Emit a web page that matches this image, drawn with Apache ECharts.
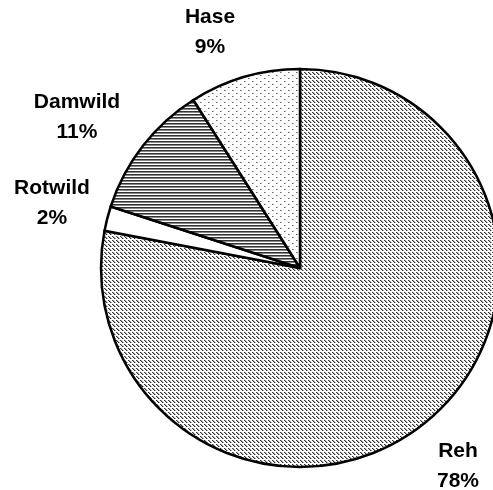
<!DOCTYPE html>
<html>
<head>
<meta charset="utf-8">
<script src="https://cdn.jsdelivr.net/npm/echarts@6/dist/echarts.min.js"></script>
<style>
  html, body { margin: 0; padding: 0; background: #fff; }
  #chart { width: 493px; height: 490px; }
</style>
</head>
<body>
<div id="chart"></div>
<script>
// Wildarten und ihre Anteile (im Uhrzeigersinn ab 12 Uhr)
const categories = ['Reh', 'Rotwild', 'Damwild', 'Hase'];
const shares = [78, 2, 11, 9];

// Beschriftungspositionen (Mitte des Textblocks)
const labelPos = [
  [458, 466],
  [52, 203],
  [77, 117],
  [210, 32]
];

// Kleine Kachel-Muster für die Flächenfüllung
function tile(w, h, pixels) {
  const c = document.createElement('canvas');
  c.width = w; c.height = h;
  const ctx = c.getContext('2d');
  ctx.fillStyle = '#fff';
  ctx.fillRect(0, 0, w, h);
  pixels.forEach(([x, y, col]) => {
    ctx.fillStyle = col;
    ctx.fillRect(x, y, 1, 1);
  });
  return c;
}

const diagonal = tile(4, 4, [
  [0, 0, '#333'], [1, 0, '#aaa'],
  [1, 1, '#333'], [2, 1, '#aaa'],
  [2, 2, '#333'], [3, 2, '#aaa']
]);
const dots = tile(8, 6, [
  [0, 0, '#666'], [1, 0, '#aaa'],
  [4, 3, '#666'], [5, 3, '#aaa']
]);
const stripes = tile(1, 3, [
  [0, 0, '#333'], [0, 1, '#888']
]);

const fills = [
  { image: diagonal, repeat: 'repeat' },
  '#ffffff',
  { image: stripes, repeat: 'repeat' },
  { image: dots, repeat: 'repeat' }
];

const chart = echarts.init(document.getElementById('chart'), null, { renderer: 'canvas' });

chart.setOption({
  animation: false,
  backgroundColor: '#fff',
  series: [{
    type: 'pie',
    center: [300, 268],
    radius: 199,
    startAngle: 90,
    clockwise: true,
    avoidLabelOverlap: false,
    emphasis: { disabled: true },
    itemStyle: { borderColor: '#000', borderWidth: 2.5 },
    label: {
      show: true,
      position: 'outside',
      formatter: '{b}\n{d}%',
      fontFamily: 'Liberation Sans, Arial, sans-serif',
      fontWeight: 'bold',
      fontSize: 21,
      lineHeight: 30,
      color: '#000',
      align: 'center'
    },
    labelLine: { show: false },
    labelLayout: function (p) {
      const pos = labelPos[p.dataIndex];
      return { x: pos[0], y: pos[1], align: 'center', verticalAlign: 'middle' };
    },
    data: categories.map((name, i) => ({
      name: name,
      value: shares[i],
      itemStyle: { color: fills[i] }
    }))
  }]
});
</script>
</body>
</html>
